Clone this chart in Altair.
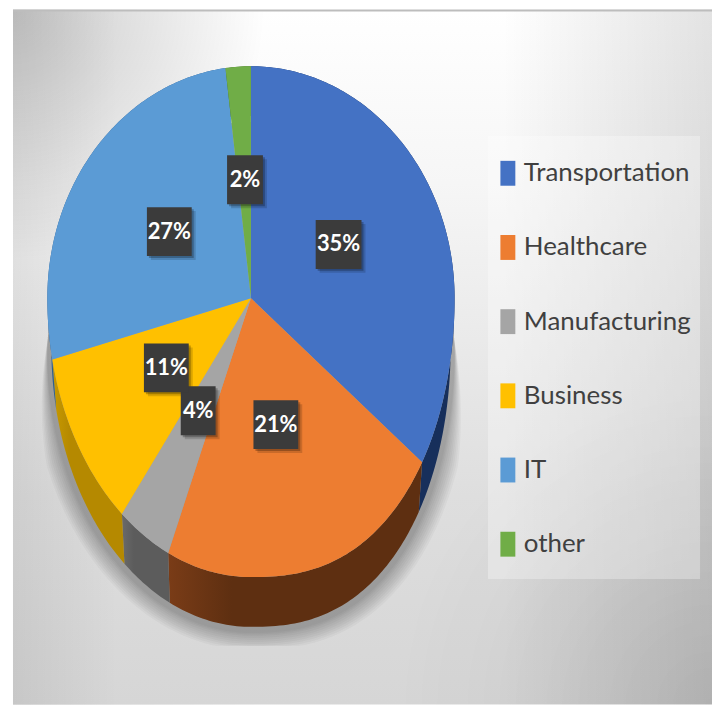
import math
import altair as alt
import pandas as pd

# ---- data ----
categories = ["Transportation", "Healthcare", "Manufacturing", "Business", "IT", "other"]
shares = [35, 21, 4, 11, 27, 2]
top_colors = ["#4472C4", "#ED7D31", "#A5A5A5", "#FFC000", "#5B9BD5", "#70AD47"]
side_colors = ["#172F5B", "#5E2F11", "#5C5C5C", "#B58900", "#2F5F8F", "#3F6628"]
side_light = ["#1B3768", "#7A3C17", "#6A6A6A", "#C89A00", "#2F5F8F", "#3F6628"]

# label box centres (page layout)
label_cx = [340, 277, 199, 167, 170, 246]
label_cy = [244, 425, 411, 368, 231, 179]
label_w = [46, 45, 35, 45, 45, 36]

# ---- layout ----
W, H = 707, 698
OX, OY = 8, 8
CX, CY = 252 - OX, 298 - OY
RX, RY_TOP, RY_BOTTOM = 204.5, 233, 280
DEPTH = 50
WARP = math.radians(3.5)   # perspective skew of the tilted disc, lower left
BULGE = 0.82               # perspective bulge of the disc, lower right


def rim(share_pos, grow=0.0, dy=0.0, narrow=0.0):
    t = 2 * math.pi * share_pos / 100
    if math.pi < t < 1.5 * math.pi:
        t = t + WARP * math.sin(2 * t)
    s = math.sin(t)
    if math.pi / 2 < t < math.pi:
        s = abs(s) ** BULGE
    ry = RY_TOP if math.cos(t) > 0 else RY_BOTTOM
    return [CX + (RX + grow - narrow) * s, CY + dy - (ry + grow) * math.cos(t)]


def arc(p0, p1, **kw):
    n = max(2, int(abs(p1 - p0) * 4))
    return [rim(p0 + (p1 - p0) * i / n, **kw) for i in range(n + 1)]


def feature(ring, **props):
    ring = ring + [ring[0]]
    return {"type": "Feature", "properties": props,
            "geometry": {"type": "Polygon", "coordinates": [ring]}}


proj = alt.Projection(type="identity", scale=1, translate=[0, 0])

starts = [sum(shares[:i]) for i in range(len(shares))]
ends = [s + v for s, v in zip(starts, shares)]

# background
base = alt.Chart(pd.DataFrame({"a": [0]}))
LEFT = 13 - OX


def panel(fill):
    return base.mark_rect(fill=fill).encode(
        x=alt.value(LEFT), x2=alt.value(W), y=alt.value(0), y2=alt.value(H))


bg = [
    panel(alt.LinearGradient(gradient="linear", x1=0, y1=0, x2=0, y2=1, stops=[
        alt.GradientStop(offset=0, color="#ffffff"),
        alt.GradientStop(offset=0.25, color="#f6f6f6"),
        alt.GradientStop(offset=0.7, color="#dedede"),
        alt.GradientStop(offset=1, color="#d6d6d6")])),
    panel(alt.RadialGradient(gradient="radial", x1=0, y1=0, r1=0, x2=0, y2=0, r2=0.36, stops=[
        alt.GradientStop(offset=0, color="rgba(0,0,0,0.22)"),
        alt.GradientStop(offset=1, color="rgba(0,0,0,0)")])),
    panel(alt.LinearGradient(gradient="linear", x1=0, y1=0, x2=1, y2=0, stops=[
        alt.GradientStop(offset=0, color="rgba(0,0,0,0.07)"),
        alt.GradientStop(offset=0.15, color="rgba(0,0,0,0)"),
        alt.GradientStop(offset=0.7, color="rgba(0,0,0,0)"),
        alt.GradientStop(offset=1, color="rgba(0,0,0,0.11)")])),
    panel(alt.RadialGradient(gradient="radial", x1=1, y1=1, r1=0, x2=1, y2=1, r2=0.45, stops=[
        alt.GradientStop(offset=0, color="rgba(0,0,0,0.08)"),
        alt.GradientStop(offset=1, color="rgba(0,0,0,0)")])),
    base.mark_rect(fill="#bdbdbd").encode(
        x=alt.value(LEFT), x2=alt.value(W), y=alt.value(0), y2=alt.value(2)),
    # legend panel
    base.mark_rect(fill="#ffffff", opacity=0.3).encode(
        x=alt.value(490 - OX), x2=alt.value(703 - OX),
        y=alt.value(135 - OY), y2=alt.value(580 - OY)),
]

# soft shadow under the pie
SHADOW_DY = DEPTH + 6
shadow = []
for grow in [0, 1.5, 3, 5, 7, 9, 11, 13, 15, 17]:
    pts = []
    for (x0, y0), (x1, y1) in zip(arc(0, 100, dy=SHADOW_DY), arc(0, 100, grow=grow, dy=SHADOW_DY)):
        f = min(1.0, max(0.0, (y0 - (340 - OY)) / 120))
        pts.append([x0 + (x1 - x0) * f, min(y0 + (y1 - y0) * f, 647 - OY)])
    shadow.append(alt.Chart(alt.Data(values=[feature(pts, k="shadow")]))
                  .mark_geoshape(fill="#000000", fillOpacity=0.032, stroke=None)
                  .project(**proj.to_dict()))

# pie sides
sides = []
for i, (s, e, c, l) in enumerate(zip(starts, ends, side_colors, side_light)):
    ring = arc(s, e) + arc(e, s, dy=DEPTH, narrow=4)
    fill = alt.LinearGradient(gradient="linear", x1=0, y1=0, x2=1, y2=0, stops=[
        alt.GradientStop(offset=0, color=l), alt.GradientStop(offset=0.25, color=c),
        alt.GradientStop(offset=1, color=c)])
    sides.append(alt.Chart(alt.Data(values=[feature(ring, name=categories[i])]))
                 .mark_geoshape(fill=fill, stroke=None)
                 .project(**proj.to_dict()))

# pie top with the legend
faces = [feature([[CX, CY]] + arc(s, e), name=n) for s, e, n in zip(starts, ends, categories)]
top = (alt.Chart(alt.Data(values=faces))
       .mark_geoshape(stroke=None)
       .encode(color=alt.Color("properties.name:N",
                               scale=alt.Scale(domain=categories, range=top_colors),
                               legend=alt.Legend(
                                   orient="none", legendX=497 - OX, legendY=159.5 - OY,
                                   title=None, padding=0,
                                   symbolType="M-0.6,-1H0.6V1H-0.6Z", symbolSize=625,
                                   symbolStrokeWidth=0, symbolOpacity=1,
                                   labelFont="Lato", labelFontSize=26,
                                   labelColor="#404040", labelOffset=3,
                                   labelLimit=220, rowPadding=48.5)))
       .project(**proj.to_dict()))

# value labels
labels = pd.DataFrame({
    "text": [f"{v}%" for v in shares],
    "cx": [v - OX for v in label_cx],
    "cy": [v - OY for v in label_cy],
    "w": label_w,
})
labels["x0"] = labels.cx - labels.w / 2
labels["x1"] = labels.cx + labels.w / 2
labels["y0"] = labels.cy - 24.5
labels["y1"] = labels.cy + 24.5
lx = alt.Scale(domain=[0, W], range=[0, W])
ly = alt.Scale(domain=[0, H], range=[0, H])


def boxes(dx, dy, fill, op):
    return alt.Chart(labels).transform_calculate(
        a=f"datum.x0+({dx})", b=f"datum.x1+({dx})", c=f"datum.y0+({dy})", d=f"datum.y1+({dy})"
    ).mark_rect(fill=fill, opacity=op).encode(
        x=alt.X("a:Q", scale=lx, axis=None), x2="b:Q",
        y=alt.Y("c:Q", scale=ly, axis=None), y2="d:Q")


shade = [boxes(4, 4, "#000000", 0.15), boxes(2, 2, "#000000", 0.25)]
box = boxes(0, 0, "#3b3b3b", 1)
text = alt.Chart(labels).mark_text(
    font="Lato", fontSize=22, fontWeight="bold", color="#ffffff",
    align="center", baseline="middle"
).encode(x=alt.X("cx:Q", scale=lx, axis=None), y=alt.Y("cy:Q", scale=ly, axis=None), text="text:N")

chart = alt.layer(*bg, *shadow, *sides, top, *shade, box, text).properties(
    width=W, height=H, padding=0, autosize=alt.AutoSizeParams(type="none")
).configure_view(stroke=None)

chart.save("out.html", embed_options={"renderer": "svg", "actions": False})
